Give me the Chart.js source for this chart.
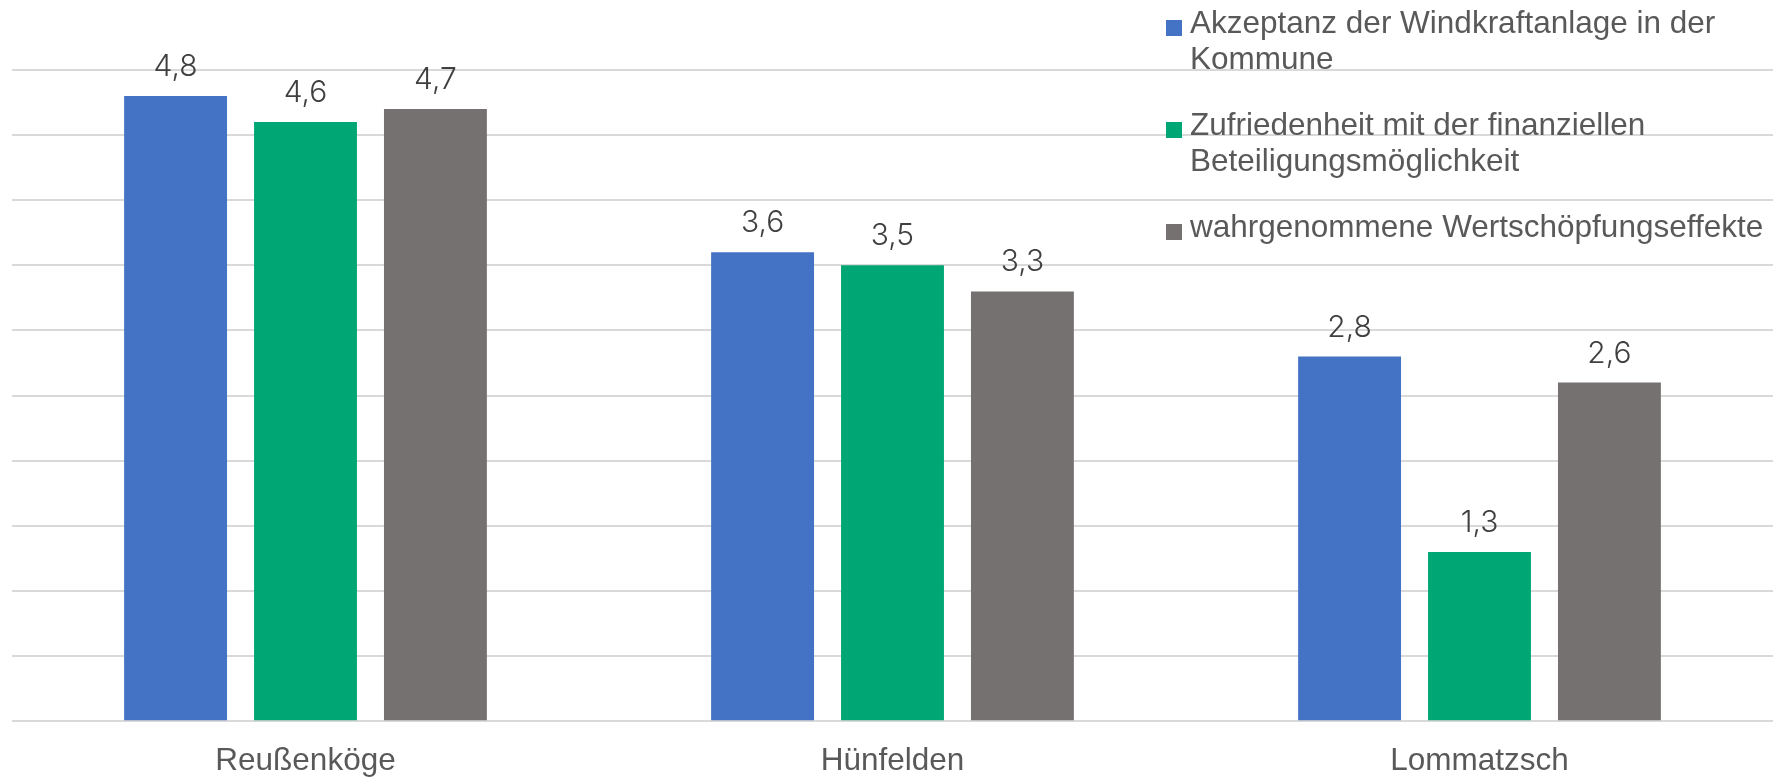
<!DOCTYPE html>
<html lang="de">
<head>
<meta charset="utf-8">
<title>Akzeptanz Windkraft</title>
<script src="https://cdn.jsdelivr.net/npm/chart.js@4.4.1/dist/chart.umd.min.js"></script>
<style>
    html, body { margin: 0; padding: 0; background: #fff; }
    #wrap { position: relative; width: 1773px; height: 779px; overflow: hidden; }
    #box { position: absolute; left: 0; top: 0; width: 1773px; height: 793px; }
    #legend {
        position: absolute; left: 1166px; top: 4px; width: 607px;
        font-family: "Liberation Sans", Arial, sans-serif; font-size: 31.5px;
        line-height: 36px; color: #595959;
    }
    .item { position: relative; padding-left: 24px; height: 72px; margin-bottom: 30px; }
    .item span.box { position: absolute; left: 0; top: 16px; width: 16px; height: 16px; }
</style>
</head>
<body>
<div id="wrap">
    <div id="box"><canvas id="chart"></canvas></div>
    <div id="legend"></div>
</div>
<script>
const categories = ['Reußenköge', 'Hünfelden', 'Lommatzsch'];
const seriesNames = [
    'Akzeptanz der Windkraftanlage in der Kommune',
    'Zufriedenheit mit der finanziellen Beteiligungsmöglichkeit',
    'wahrgenommene Wertschöpfungseffekte'
];
const akzeptanz = [4.8, 3.6, 2.8];
const zufriedenheit = [4.6, 3.5, 1.3];
const wertschoepfung = [4.7, 3.3, 2.6];
const seriesColors = ['#4472C4', '#00A673', '#767171'];
const yMin = 0;
const yMax = 5;
const yStep = 0.5;

const values = [akzeptanz, zufriedenheit, wertschoepfung];

// Zahlen mit Komma wie im Original
const fmt = v => v.toFixed(1).replace('.', ',');

const valueLabels = {
    id: 'valueLabels',
    afterDatasetsDraw(chart) {
        const ctx = chart.ctx;
        ctx.save();
        ctx.font = '300 30px Inter, "Open Sans", sans-serif';
        ctx.fillStyle = '#404040';
        ctx.textAlign = 'center';
        ctx.textBaseline = 'alphabetic';
        chart.data.datasets.forEach((ds, i) => {
            chart.getDatasetMeta(i).data.forEach((bar, j) => {
                ctx.fillText(fmt(ds.data[j]), bar.x, bar.y - 20);
            });
        });
        ctx.restore();
    }
};

const ctx = document.getElementById('chart').getContext('2d');
new Chart(ctx, {
    type: 'bar',
    data: {
        labels: categories,
        datasets: values.map((data, i) => ({
            label: seriesNames[i],
            data: data,
            backgroundColor: seriesColors[i],
            borderWidth: 0,
            categoryPercentage: 0.664,
            barPercentage: 0.792
        }))
    },
    options: {
        responsive: true,
        maintainAspectRatio: false,
        animation: false,
        layout: { padding: { top: 70, left: 12, right: 0, bottom: 0 } },
        scales: {
            x: {
                grid: { display: false },
                border: { display: false },
                ticks: {
                    color: '#595959',
                    padding: 13,
                    font: { family: '"Liberation Sans", Arial, sans-serif', size: 31.5 }
                }
            },
            y: {
                min: yMin,
                max: yMax,
                ticks: { display: false, stepSize: yStep },
                grid: { color: '#d9d9d9', lineWidth: 2, drawTicks: false },
                border: { display: false }
            }
        },
        plugins: {
            legend: { display: false },
            tooltip: { enabled: false }
        }
    },
    plugins: [valueLabels]
});

// Legende als HTML, weil die Texte umbrechen
const legend = document.getElementById('legend');
seriesNames.forEach((name, i) => {
    const item = document.createElement('div');
    item.className = 'item';
    const box = document.createElement('span');
    box.className = 'box';
    box.style.background = seriesColors[i];
    item.appendChild(box);
    item.appendChild(document.createTextNode(name));
    legend.appendChild(item);
});
</script>
</body>
</html>
